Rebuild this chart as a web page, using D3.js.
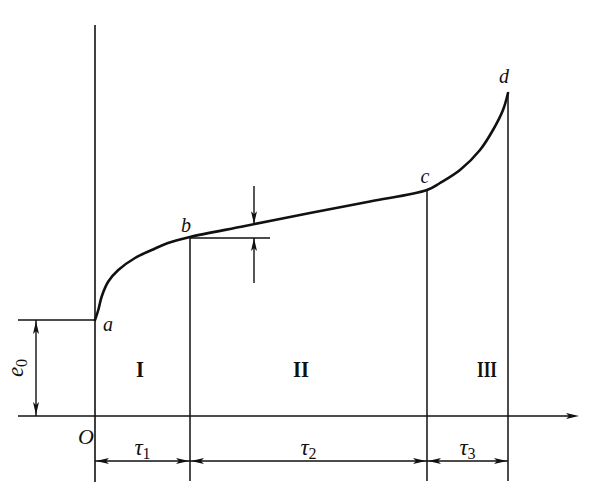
<!DOCTYPE html>
<html><head><meta charset="utf-8">
<script src="https://cdn.jsdelivr.net/npm/d3@7"></script>
<style>body{margin:0;background:#fff}svg{display:block}</style>
</head><body>
<script>
// creep curve data (time, strain) in arbitrary units
const curveT = [0, 0.66, 1.34, 2.66, 4.66, 8, 11.34, 14.6, 19, 30, 43, 55, 66.4, 69, 73, 77, 79.6, 81.6, 82.6];
const curveE = [19.2, 21.2, 23.9, 26.9, 29.2, 31.6, 33.2, 34.6, 35.8, 38.0, 40.6, 42.9, 45.2, 46.6, 49.2, 53.2, 57.2, 61.2, 64.6];
const pointNames = ["a", "b", "c", "d"];
const pointT = [0, 19, 66.4, 82.6];
const pointE = [19.2, 35.8, 45.2, 64.6];
const stageNames = ["I", "II", "III"];
const stageLabels = ["τ", "τ", "τ"];
const stageSubs = ["1", "2", "3"];
const e0 = 19.2;
const markT = 31.8;

const W = 613, H = 489;
const x = d3.scaleLinear().domain([0, 100]).range([95, 595]);
const y = d3.scaleLinear().domain([0, 80]).range([416, 16]);
const svg = d3.select("body").append("svg").attr("width", W).attr("height", H);
const ink = "#111";
const serif = "'Liberation Serif','DejaVu Serif',serif";

function arrowHead(tx, ty, dir) {
  const L = 13, hw = 3;
  let pts;
  if (dir === 'r') pts = [[tx, ty], [tx - L, ty - hw], [tx - L + 3, ty], [tx - L, ty + hw]];
  if (dir === 'l') pts = [[tx, ty], [tx + L, ty - hw], [tx + L - 3, ty], [tx + L, ty + hw]];
  if (dir === 'd') pts = [[tx, ty], [tx - hw, ty - L], [tx, ty - L + 3], [tx + hw, ty - L]];
  if (dir === 'u') pts = [[tx, ty], [tx - hw, ty + L], [tx, ty + L - 3], [tx + hw, ty + L]];
  svg.append("path").attr("d", "M" + pts.map(p => p.join(",")).join("L") + "Z").attr("fill", ink);
}
function line(x1, y1, x2, y2, w) {
  svg.append("line").attr("x1", x1).attr("y1", y1).attr("x2", x2).attr("y2", y2)
    .attr("stroke", ink).attr("stroke-width", w || 1.5);
}

const bottom = 481;
line(x(0), 25, x(0), 482, 1.6);
line(18, y(0), 575, y(0), 1.5);
arrowHead(579, y(0), 'r');

line(18, y(e0), x(0), y(e0), 1.5);
line(36, y(e0), 36, y(0), 1.4);
arrowHead(36, y(e0) + 1, 'u');
arrowHead(36, y(0) - 1, 'd');

pointT.slice(1).forEach((t, i) => line(x(t), y(pointE[i + 1]), x(t), bottom, 1.5));

const eAtMark = d3.scaleLinear().domain(curveT).range(curveE)(markT);
line(x(pointT[1]), y(pointE[1]) + 1, 270, y(pointE[1]) + 1, 1.4);
line(x(markT), 186, x(markT), y(eAtMark), 1.4);
arrowHead(x(markT), y(eAtMark), 'd');
line(x(markT), y(pointE[1]) + 1, x(markT), 283, 1.4);
arrowHead(x(markT), y(pointE[1]) + 1, 'u');

const data = curveT.map((t, i) => [t, curveE[i]]);
svg.append("path").datum(data)
  .attr("d", d3.line().x(d => x(d[0])).y(d => y(d[1])).curve(d3.curveCatmullRom.alpha(0.5)))
  .attr("fill", "none").attr("stroke", ink).attr("stroke-width", 2.6).attr("stroke-linecap", "round");

const dimY = 461;
line(x(0), dimY, x(pointT[3]), dimY, 1.4);
for (let i = 0; i < 3; i++) {
  const x1 = x(pointT[i]), x2 = x(pointT[i + 1]);
  arrowHead(x1 + 1, dimY, 'l');
  arrowHead(x2 - 1, dimY, 'r');
  const t = svg.append("text").attr("x", (x1 + x2) / 2).attr("y", dimY - 6)
    .attr("text-anchor", "middle").attr("font-family", serif).attr("font-size", 23).attr("fill", ink);
  t.append("tspan").attr("font-style", "italic").text(stageLabels[i]);
  t.append("tspan").attr("font-size", 16).attr("dy", 4).text(stageSubs[i]);
  svg.append("text").attr("x", [140, 301, 487][i]).attr("y", 377)
    .attr("text-anchor", "middle").attr("font-family", serif).attr("font-size", 24)
    .attr("font-weight", "bold").attr("fill", ink).attr("textLength", [8, 16, 20][i])
    .attr("lengthAdjust", "spacingAndGlyphs").text(stageNames[i]);
}

const lblPos = [[108, 331], [186, 232], [425, 183], [504, 83]];
pointNames.forEach((n, i) => {
  svg.append("text").attr("x", lblPos[i][0]).attr("y", lblPos[i][1]).attr("text-anchor", "middle")
    .attr("font-family", serif).attr("font-style", "italic").attr("font-size", 20).attr("fill", ink).text(n);
});
svg.append("text").attr("x", 86).attr("y", 444).attr("text-anchor", "middle")
  .attr("font-family", serif).attr("font-style", "italic").attr("font-size", 22).attr("fill", ink).text("O");

const el = svg.append("text").attr("transform", "translate(23,368) rotate(-90)").attr("text-anchor", "middle")
  .attr("font-family", serif).attr("font-style", "italic").attr("font-size", 23).attr("fill", ink);
el.append("tspan").text("e");
el.append("tspan").attr("font-style", "normal").attr("font-size", 16).attr("dy", 4).text("0");
</script>
</body></html>
